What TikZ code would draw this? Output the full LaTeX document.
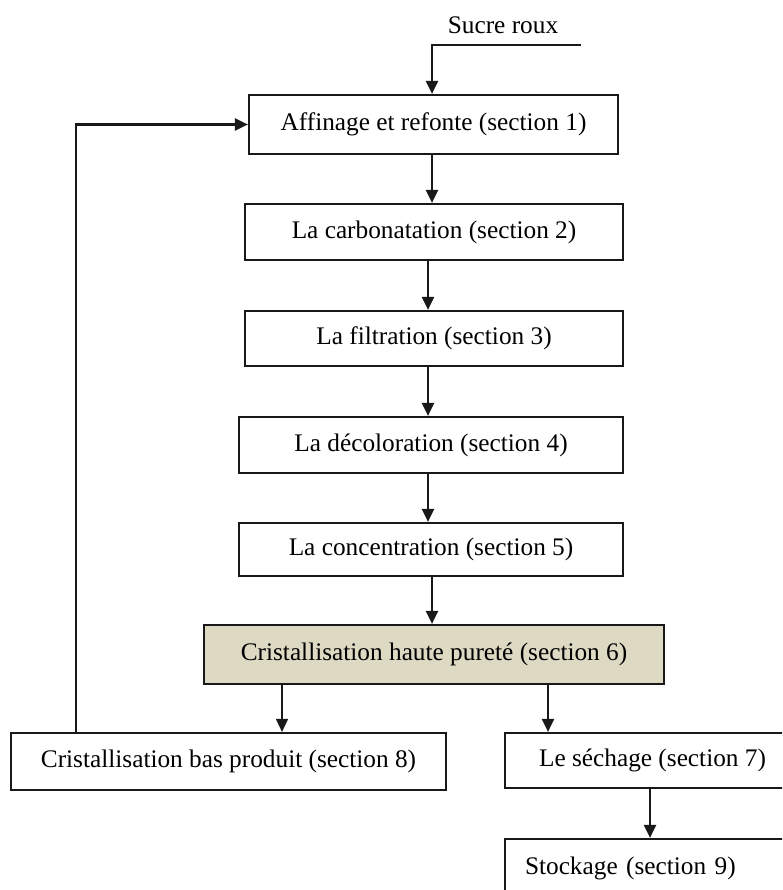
\documentclass[tikz,border=0pt]{standalone}
\usepackage{fontspec}
\setmainfont{Liberation Serif}
\usetikzlibrary{arrows.meta}

\definecolor{boxline}{RGB}{25,25,25}
\definecolor{tanfill}{RGB}{221,217,195}

\tikzset{
  stage/.style={draw=boxline, line width=2.2pt, rectangle, inner sep=0pt,
    font=\fontsize{25.3}{30}\selectfont},
  flow/.style={draw=boxline, line width=2.2pt,
    -{Triangle[length=13pt,width=12pt]}},
  thinflow/.style={flow, line width=1.5pt},
}

\begin{document}
\begin{tikzpicture}[x=1pt,y=-1pt]
  \clip (0,0) rectangle (782,890);
  \fill[white] (0,0) rectangle (782,890);

  % process stages
  \node[stage, minimum width=369pt, minimum height=59pt] (s1) at (433.5,124.5) {Affinage et refonte (section 1)};
  \node[stage, minimum width=378pt, minimum height=56pt] (s2) at (434,232) {La carbonatation (section 2)};
  \node[stage, minimum width=378pt, minimum height=55pt] (s3) at (434,338.5) {La filtration (section 3)};
  \node[stage, minimum width=384pt, minimum height=56pt] (s4) at (431,445) {La décoloration (section 4)};
  \node[stage, minimum width=384pt, minimum height=53pt] (s5) at (431,549.5) {La concentration (section 5)};
  \node[stage, fill=tanfill, minimum width=460pt, minimum height=59pt] (s6) at (434,654.5) {Cristallisation haute pureté (section 6)};
  \node[stage, minimum width=435pt, minimum height=57pt] (s8) at (228.5,761.5) {Cristallisation bas produit (section 8)};
  \node[stage, minimum width=295pt, minimum height=55pt] (s7) at (652.5,760.5) {Le séchage (section 7)};
  \node[stage, text width=255pt, align=left, inner xsep=20pt, minimum height=58pt] (s9) at (652.5,868) {Stockage (section 9)};

  % raw sugar input
  \node[font=\fontsize{25.3}{30}\selectfont] (sucre) at (503,25) {Sucre roux};
  \coordinate (inlet) at (581,45);

  % connector columns
  \coordinate (cA) at (432,0);
  \coordinate (cB) at (428,0);
  \coordinate (cL) at (282,0);
  \coordinate (cR) at (548,0);
  \coordinate (cS) at (650,0);
  \coordinate (loop) at (76,0);

  \draw[flow] (inlet) -| (cA |- s1.north);
  \draw[flow] (cA |- s1.south) -- (cA |- s2.north);
  \draw[flow] (cB |- s2.south) -- (cB |- s3.north);
  \draw[flow] (cB |- s3.south) -- (cB |- s4.north);
  \draw[flow] (cB |- s4.south) -- (cB |- s5.north);
  \draw[flow] (cA |- s5.south) -- (cA |- s6.north);
  \draw[thinflow] (cL |- s6.south) -- (cL |- s8.north);
  \draw[flow] (cR |- s6.south) -- (cR |- s7.north);
  \draw[flow] (cS |- s7.south) -- (cS |- s9.north);

  % recycle of low-grade product
  \draw[flow] (loop |- s8.north) |- (s1.west);
\end{tikzpicture}
\end{document}
